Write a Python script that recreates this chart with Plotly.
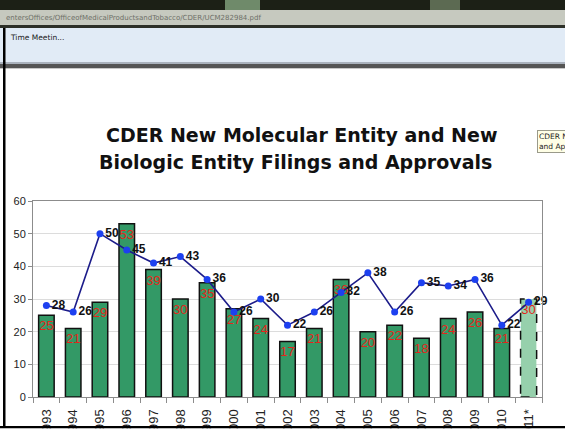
import plotly.graph_objects as go

# ---- data ----
years = ["1993", "1994", "1995", "1996", "1997", "1998", "1999", "2000", "2001",
         "2002", "2003", "2004", "2005", "2006", "2007", "2008", "2009", "2010", "2011*"]
approvals = [25, 21, 29, 53, 39, 30, 35, 27, 24, 17, 21, 36, 20, 22, 18, 24, 26, 21, 30]
filings = [28, 26, 50, 45, 41, 43, 36, 26, 30, 22, 26, 32, 38, 26, 35, 34, 36, 22, 29]

title_line1 = "CDER New Molecular Entity and New"
title_line2 = "Biologic Entity Filings and Approvals"
address_text = "entersOffices/OfficeofMedicalProductsandTobacco/CDER/UCM282984.pdf"
tab_text = "Time Meetin..."
tooltip_text = "CDER New<br>and Appr"

W, H = 565, 431
L, R, T, B = 33, 542, 201, 397


def px(x):
    return (x - L) / (R - L)


def py(y):
    return (B - y) / (B - T)


n = len(years)
bar_colors = ["#339966"] * (n - 1) + ["#96d0ac"]
bar_line_w = [1.5] * (n - 1) + [0]

fig = go.Figure()
fig.add_trace(go.Bar(
    x=years, y=approvals,
    marker=dict(color=bar_colors, line=dict(color="#111111", width=bar_line_w)),
    text=[str(v) for v in approvals],
    textposition="inside", insidetextanchor="end", constraintext="none",
    textfont=dict(family="Arial, Liberation Sans", size=13, color="#e3261b"),
    textangle=0,
))
fig.add_trace(go.Scatter(
    x=years, y=filings, mode="lines+markers+text",
    line=dict(color="#1c1c8a", width=1.6),
    marker=dict(color="#1d40f0", size=7),
    text=["<b>%d</b>" % v for v in filings],
    textposition="middle right",
    textfont=dict(family="Arial, Liberation Sans", size=12, color="#111111"),
    cliponaxis=False,
))

shapes = []
# dashed outline for the last (projected) bar, from the data
i_last = n - 1
shapes.append(dict(type="rect", xref="x", yref="y",
                   x0=i_last - 0.3, x1=i_last + 0.3, y0=0, y1=approvals[-1],
                   line=dict(color="#111111", width=1.5, dash="dash"), layer="above"))

# browser chrome
def rect(x0, y0, x1, y1, color, line=None):
    shapes.append(dict(type="rect", xref="paper", yref="paper",
                       x0=px(x0), x1=px(x1), y0=py(y1), y1=py(y0),
                       fillcolor=color, line=dict(width=0) if line is None else line,
                       layer="above"))

rect(0, 0, W, 10, "#1c2016")
rect(225, 0, 260, 10, "#6f8a6a")
rect(430, 0, 460, 10, "#5c6a52")
rect(0, 10, W, 25, "#c6c9bf")
rect(0, 25, W, 28, "#2d3028")
rect(0, 28, W, 62, "#e1ebf6")
rect(0, 62, W, 64, "#aab2bd")
rect(0, 64, W, 68, "#555555")
rect(0, 68, W, 69, "#c8c8c8")
rect(3, 28, 5.5, 428, "#000000")
rect(0, 426, W, 428.5, "#000000")
rect(0, 428.5, W, H + 5, "#ffffff")

annotations = [
    dict(xref="paper", yref="paper", x=px(301), y=py(135), xanchor="center", yanchor="middle",
         text="<b>" + title_line1 + "</b>", showarrow=False,
         font=dict(family="DejaVu Sans", size=19, color="#111111")),
    dict(xref="paper", yref="paper", x=px(295), y=py(162), xanchor="center", yanchor="middle",
         text="<b>" + title_line2 + "</b>", showarrow=False,
         font=dict(family="DejaVu Sans", size=19, color="#111111")),
    dict(xref="paper", yref="paper", x=px(4), y=py(18), xanchor="left", yanchor="middle",
         text=address_text, showarrow=False,
         font=dict(family="DejaVu Sans", size=7, color="#6e7068")),
    dict(xref="paper", yref="paper", x=px(8), y=py(38), xanchor="left", yanchor="middle",
         text=tab_text, showarrow=False,
         font=dict(family="DejaVu Sans", size=7.5, color="#1a1a1a")),
    dict(xref="paper", yref="paper", x=px(537), y=py(130), xanchor="left", yanchor="top",
         text=tooltip_text, showarrow=False, align="left",
         bgcolor="#ffffe6", bordercolor="#9a9a8a", borderwidth=1, borderpad=1,
         font=dict(family="DejaVu Sans", size=7.5, color="#222222")),
]

fig.update_layout(
    width=W, height=H,
    margin=dict(l=L, r=W - R, t=T, b=H - B),
    paper_bgcolor="#ffffff", plot_bgcolor="#ffffff",
    showlegend=False,
    bargap=0.42,
    shapes=shapes,
    annotations=annotations,
    xaxis=dict(type="category", tickangle=-90, automargin=False,
               range=[-0.5, n - 0.5], autorange=False,
               ticks="outside", tickson="boundaries", ticklen=5, tickcolor="#8c8c8c",
               ticklabelstandoff=6,
               showline=True, linecolor="#8c8c8c", linewidth=1, mirror=True,
               showgrid=False,
               tickfont=dict(family="Arial, Liberation Sans", size=13, color="#222222")),
    yaxis=dict(range=[0, 60], dtick=10, automargin=False,
               ticks="outside", ticklen=4, tickcolor="#8c8c8c",
               showline=True, linecolor="#8c8c8c", linewidth=1, mirror=True,
               showgrid=True, gridcolor="#dcdcdc", zeroline=False,
               tickfont=dict(family="Arial, Liberation Sans", size=11, color="#222222")),
)

fig.write_html("out.html", config={"displayModeBar": False},
               post_script="document.body.style.margin='0';document.body.style.overflow='hidden';")
